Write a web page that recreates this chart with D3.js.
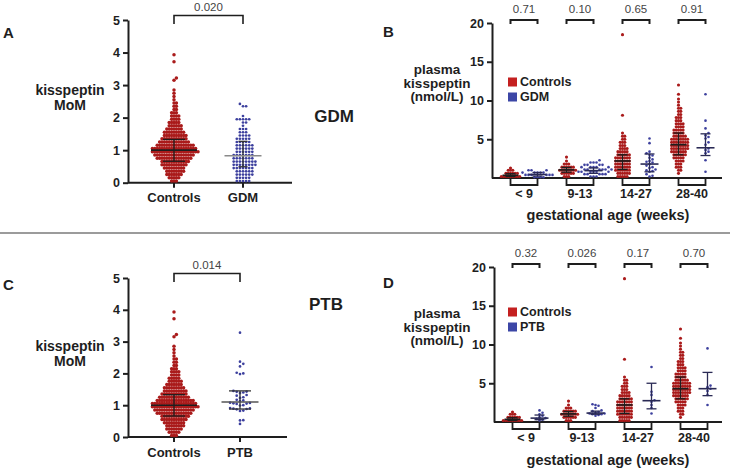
<!DOCTYPE html>
<html><head><meta charset="utf-8">
<script src="https://cdn.jsdelivr.net/npm/d3@7"></script>
<style>body{margin:0;background:#fff} text{font-family:"Liberation Sans",Arial,sans-serif}</style>
</head><body><svg id="c" width="730" height="470"></svg>
<script>
// ---------------- DATA ----------------
const momCategoriesA = ["Controls", "GDM"];
const momCategoriesC = ["Controls", "PTB"];
const yTicksMoM = [0, 1, 2, 3, 4, 5];
const yTicksConc = [5, 10, 15, 20];
const ageGroups = ["< 9", "9-13", "14-27", "28-40"];

const controlsMoM = [[0.05,3],[0.15,5],[0.25,7],[0.35,8],[0.45,9],[0.55,11],[0.65,12],[0.75,15],[0.85,17],[0.95,20],[1.05,19],[1.15,16],[1.25,13],[1.35,11],[1.45,10],[1.55,9],[1.65,7],[1.75,6],[1.85,5],[1.95,4],[2.05,4],[2.15,3],[2.25,2],[2.35,2],[2.45,2],[2.55,1],[2.65,1],[2.75,1],[2.85,1],[3.15,1],[3.22,1],[3.72,1],[3.93,1]];
const gdmMoM = [[0.05,5],[0.15,5],[0.25,6],[0.35,6],[0.45,7],[0.55,8],[0.65,8],[0.75,7],[0.85,7],[0.95,6],[1.05,6],[1.15,6],[1.25,5],[1.35,5],[1.45,4],[1.55,3],[1.65,3],[1.75,1],[1.85,2],[1.95,5],[2.05,1],[2.35,2],[2.42,1]];
const ptbMoM = [3.28,2.37,2.3,2.22,2.02,2.0,1.98,1.45,1.43,1.42,1.4,1.38,1.32,1.3,1.25,1.23,1.17,1.15,1.13,1.08,1.07,1.06,1.05,1.04,1.0,0.99,0.91,0.9,0.89,0.88,0.87,0.83,0.82,0.53,0.52,0.41];

const controlsMoMStats = [1.0, 0.66, 1.33];   // median, q1, q3
const gdmMoMStats = [0.83, 0.49, 1.27];
const ptbMoMStats = [1.1, 0.88, 1.45];
const pValueA = "0.020";
const pValueC = "0.014";

const controlsByAge = [
  [[0.2,9],[0.6,6],[1.0,3],[1.3,1]],
  [[0.2,3],[0.6,6],[1.0,8],[1.4,6],[1.8,3],[2.2,1],[2.7,1]],
  [[0.2,5],[0.6,6],[1.0,7],[1.4,7],[1.8,7],[2.2,7],[2.6,7],[3.0,6],[3.4,5],[3.8,4],[4.2,3],[4.6,3],[5.0,2],[5.4,2],[5.8,1],[8.1,1],[18.5,1]],
  [[0.6,1],[1.0,2],[1.4,3],[1.8,3],[2.2,4],[2.6,5],[3.0,6],[3.4,7],[3.8,8],[4.2,8],[4.6,8],[5.0,8],[5.4,6],[5.8,5],[6.2,5],[6.6,4],[7.0,4],[7.4,3],[7.8,3],[8.2,2],[8.6,2],[9.0,2],[9.4,1],[9.8,1],[10.2,1],[10.8,1],[12.0,1]]
];
const gdmByAge = [
  [[0.1,4],[0.4,6],[0.7,5],[1.0,3]],
  [[0.2,3],[0.5,5],[0.8,6],[1.1,6],[1.4,5],[1.7,4],[2.0,3],[2.3,1]],
  [5.1,4.5,3.4,3.2,3.0,2.9,2.6,2.4,2.2,2.1,2.0,1.8,1.6,1.4,1.3,1.1,1.0,0.9,0.8,0.5,0.3,0.2],
  [10.8,7.4,6.4,5.8,5.5,5.3,5.1,4.6,4.3,3.8,3.6,3.4,3.2,2.3,0.8]
];
const ptbByAge = [
  [1.5,1.2,1.0,0.8,0.6,0.5,0.4,0.3,0.2],
  [2.3,2.2,2.1,1.8,1.5,1.4,1.3,1.2,1.1,1.1,1.0,1.0,0.9,0.8],
  [7.1,3.9,3.5,2.8,2.6,2.2,1.8,1.1],
  [9.5,4.7,4.5,4.3,4.0,3.5,2.2]
];
const controlsAgeStats = [[0.35,0.2,0.55],[1.05,0.75,1.35],[2.2,1.1,3.0],[4.3,3.0,5.8]];
const gdmAgeStats = [[0.45,0.25,0.7],[0.95,0.6,1.3],[1.8,0.8,3.1],[3.9,2.9,5.7]];
const ptbAgeStats = [[0.5,0.3,0.9],[1.15,1.0,1.4],[2.75,1.7,5.0],[4.3,3.4,6.4]];
const pValuesB = ["0.71","0.10","0.65","0.91"];
const pValuesD = ["0.32","0.026","0.17","0.70"];

// ---------------- DRAW ----------------
const svg = d3.select("#c");
const RED = "#aa1b1b", BLUE = "#3d409e", INK = "#1e1e1e";

function expand(arr) { return arr.flatMap(d => Array.isArray(d) ? Array(d[1]).fill(d[0]) : [d]); }

function swarm(values, y, cx, step, minDist) {
  const placed = [];
  const sorted = values.slice().sort((a, b) => a - b);
  for (const v of sorted) {
    const py = y(v);
    let k = 0, px;
    while (true) {
      const m = Math.ceil(k / 2);
      const off = k === 0 ? 0 : (k % 2 === 1 ? m * step : -m * step);
      px = cx + off;
      if (!placed.some(p => Math.abs(p.y - py) < minDist && (p.x - px) ** 2 + (p.y - py) ** 2 < minDist * minDist)) break;
      k++;
    }
    placed.push({ x: px, y: py });
  }
  return placed;
}

function dots(g, pts, r, color) {
  g.append("g").selectAll("circle").data(pts).join("circle")
    .attr("cx", d => d.x).attr("cy", d => d.y).attr("r", r).attr("fill", color);
}

function stats(g, y, cx, s, mw, ew, medColor, barColor, sw) {
  const [med, q1, q3] = s;
  g.append("line").attr("x1", cx).attr("x2", cx).attr("y1", y(q1)).attr("y2", y(q3)).attr("stroke", barColor).attr("stroke-width", sw);
  [q1, q3].forEach(q => g.append("line").attr("x1", cx - ew).attr("x2", cx + ew).attr("y1", y(q)).attr("y2", y(q)).attr("stroke", barColor).attr("stroke-width", sw));
  g.append("line").attr("x1", cx - mw).attr("x2", cx + mw).attr("y1", y(med)).attr("y2", y(med)).attr("stroke", medColor).attr("stroke-width", sw + 0.3);
}

function yAxis(g, y, x, ticks) {
  const ax = g.append("g").attr("transform", `translate(${x},0)`)
    .call(d3.axisLeft(y).tickValues(ticks).tickSize(5).tickSizeOuter(0).tickPadding(3).tickFormat(d3.format("d")));
  ax.select(".domain").attr("stroke", INK).attr("stroke-width", 2);
  ax.selectAll(".tick line").attr("stroke", INK).attr("stroke-width", 2);
  ax.selectAll(".tick text").attr("font-size", 12.5).attr("font-weight", "bold").attr("fill", INK)
    .attr("font-family", '"Liberation Sans",Arial,sans-serif');
}

function text(g, x, y, s, size, weight, anchor, fill) {
  return g.append("text").attr("x", x).attr("y", y).attr("font-size", size).attr("font-weight", weight || "normal")
    .attr("text-anchor", anchor || "middle").attr("fill", fill || INK).text(s);
}

// ---- MoM panels (A, C) ----
function momPanel(o) {
  const g = svg.append("g");
  const y = d3.scaleLinear().domain([0, 5]).range([o.y0, o.y5]);
  const x = d3.scalePoint().domain(o.cats).range(o.xr);
  g.append("line").attr("x1", o.ax).attr("x2", o.xEnd).attr("y1", y(0)).attr("y2", y(0)).attr("stroke", INK).attr("stroke-width", 2);
  o.cats.forEach(c => {
    g.append("line").attr("x1", x(c)).attr("x2", x(c)).attr("y1", y(0)).attr("y2", y(0) + 5).attr("stroke", INK).attr("stroke-width", 2);
    text(g, x(c), o.labY, c, 13, "bold");
  });
  yAxis(g, y, o.ax, yTicksMoM);
  dots(g, swarm(expand(o.ctrl), y, x(o.cats[0]), 2.4, 2.3), 1.75, RED);
  dots(g, swarm(expand(o.case), y, x(o.cats[1]), o.caseStep, o.caseMin), 1.35, BLUE);
  stats(g, y, x(o.cats[0]), o.ctrlStats, 23, 11, INK, INK, 1.3);
  stats(g, y, x(o.cats[1]), o.caseStats, 18.5, o.caseEw, o.caseMed, "#333", 1.3);
  const bt = o.y5 - 4.5;
  g.append("path").attr("d", `M${x(o.cats[0])},${bt + 8.5}V${bt}H${x(o.cats[1])}V${bt + 8.5}`)
    .attr("fill", "none").attr("stroke", INK).attr("stroke-width", 1.6);
  text(g, (x(o.cats[0]) + x(o.cats[1])) / 2, bt - 5, o.p, 11.5, "normal", "middle", "#444");
  text(g, 3, o.letterY, o.letter, 15, "bold", "start");
  text(g, 70, o.labY1, "kisspeptin", 14, "bold");
  text(g, 70, o.labY1 + 15, "MoM", 14, "bold");
  text(g, o.bigX, o.bigY, o.big, 17, "bold");
}

momPanel({ y0: 182.7, y5: 20, ax: 128, xEnd: 292, xr: [174, 243], cats: momCategoriesA, labY: 202,
  ctrl: controlsMoM, case: gdmMoM, caseStep: 3.1, caseMin: 2.9, ctrlStats: controlsMoMStats, caseStats: gdmMoMStats,
  caseEw: 4.5, caseMed: "#8a8a8a", p: pValueA, letter: "A", letterY: 38, labY1: 95, big: "GDM", bigX: 334, bigY: 122 });
momPanel({ y0: 437, y5: 278, ax: 128, xEnd: 287, xr: [174, 240], cats: momCategoriesC, labY: 457,
  ctrl: controlsMoM, case: ptbMoM, caseStep: 3.3, caseMin: 3.0, ctrlStats: controlsMoMStats, caseStats: ptbMoMStats,
  caseEw: 11, caseMed: "#555", p: pValueC, letter: "C", letterY: 290, labY1: 351, big: "PTB", bigX: 326, bigY: 310 });

// ---- concentration panels (B, D) ----
function concPanel(o) {
  const g = svg.append("g");
  const y = d3.scaleLinear().domain([0, 20]).range([o.y0, o.y20]);
  const gx = d3.scalePoint().domain(ageGroups).range(o.gr);
  const sx = d3.scalePoint().domain(["Controls", o.caseName]).range([-13.5, 13.5]);
  g.append("line").attr("x1", o.ax).attr("x2", 722).attr("y1", y(0)).attr("y2", y(0)).attr("stroke", INK).attr("stroke-width", 2);
  yAxis(g, y, o.ax, yTicksConc);
  ageGroups.forEach((grp, i) => {
    const c0 = gx(grp) + sx("Controls"), c1 = gx(grp) + sx(o.caseName);
    dots(g, swarm(expand(controlsByAge[i]), y, c0, 2.3, 2.2), 1.55, RED);
    dots(g, swarm(expand(o.cases[i]), y, c1, 3.0, 2.8), 1.3, BLUE);
    stats(g, y, c0, controlsAgeStats[i], 8, 5, INK, INK, 1.3);
    stats(g, y, c1, o.caseStats[i], 9, 5, "#2a2a55", "#2a2a55", 1.3);
    g.append("path").attr("d", `M${c0},${y(0)}V${y(0) + 7}H${c1}V${y(0)}`).attr("fill", "none").attr("stroke", INK).attr("stroke-width", 1.8);
    text(g, gx(grp), o.labY, grp, 12.5, "bold");
    g.append("path").attr("d", `M${c0},${o.y20 + 1}V${o.y20 - 3}H${c1}V${o.y20 + 1}`).attr("fill", "none").attr("stroke", INK).attr("stroke-width", 2);
    text(g, gx(grp), o.y20 - 10, o.pv[i], 11.5, "normal", "middle", "#444");
  });
  text(g, 608, o.titleY, "gestational age  (weeks)", 14.5, "bold");
  text(g, 383, o.letterY, o.letter, 15, "bold", "start");
  ["plasma", "kisspeptin", "(nmol/L)"].forEach((s, i) => text(g, 437, o.ylY + i * 13.5, s, 13.5, "bold"));
  [["Controls", "#c42020"], [o.caseName, "#3c46a6"]].forEach(([s, c], i) => {
    g.append("rect").attr("x", 508).attr("y", o.legY + i * 15 - 8.5).attr("width", 9).attr("height", 9).attr("fill", c);
    text(g, 520, o.legY + i * 15, s, 12.5, "bold", "start");
  });
}

concPanel({ y0: 178, y20: 23, ax: 492, gr: [524, 692], caseName: "GDM", cases: gdmByAge, caseStats: gdmAgeStats,
  pv: pValuesB, labY: 198, titleY: 220, letter: "B", letterY: 37, ylY: 74, legY: 86 });
concPanel({ y0: 422, y20: 267, ax: 494, gr: [526, 694], caseName: "PTB", cases: ptbByAge, caseStats: ptbAgeStats,
  pv: pValuesD, labY: 442, titleY: 465, letter: "D", letterY: 288, ylY: 318, legY: 316 });

svg.append("line").attr("x1", 0).attr("x2", 730).attr("y1", 233).attr("y2", 233).attr("stroke", "#7a7a7a").attr("stroke-width", 1.6);
</script></body></html>
